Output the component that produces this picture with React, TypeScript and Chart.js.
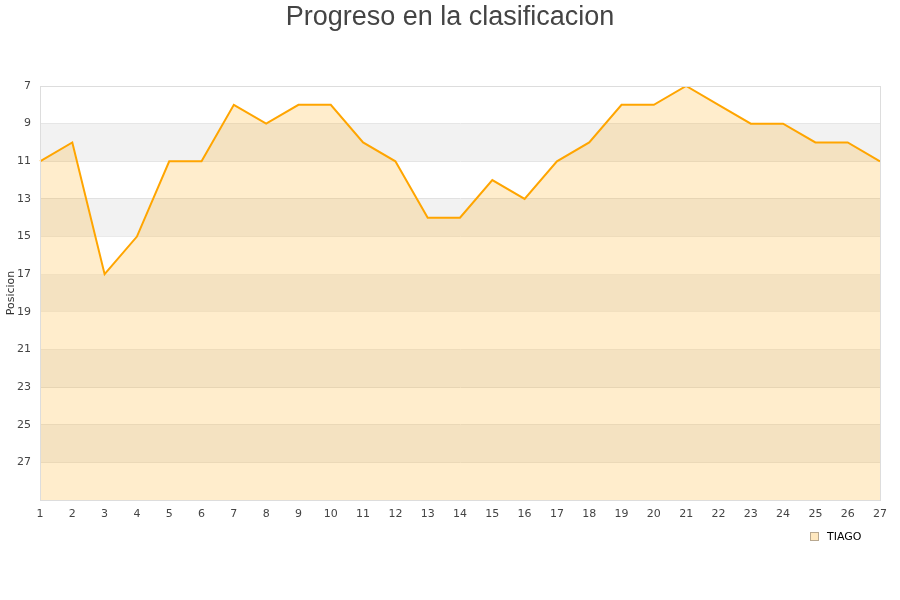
import React, { useEffect, useRef } from "react";
import { Chart, registerables } from "chart.js";

Chart.register(...registerables);

const jornadas = ["1","2","3","4","5","6","7","8","9","10","11","12","13","14","15","16","17","18","19","20","21","22","23","24","25","26","27"];
const posiciones = [11,10,17,15,11,11,8,9,8,8,10,11,14,14,12,13,11,10,8,8,7,8,9,9,10,10,11];
const bandStarts = [9,13,17,21,25];
const yMin = 7;
const yMax = 29;
const seriesName = "TIAGO";
const chartTitle = "Progreso en la clasificacion";
const yTitle = "Posicion";

const decorPlugin = {
  id: "decor",
  beforeDatasetsDraw(chart: any) {
    const { ctx, chartArea, scales } = chart;
    const y = scales.y;
    ctx.save();
    ctx.fillStyle = "#f2f2f2";
    for (const b of bandStarts) {
      const p1 = y.getPixelForValue(b);
      const p2 = y.getPixelForValue(b + 2);
      ctx.fillRect(chartArea.left, p1, chartArea.right - chartArea.left, p2 - p1);
    }
    ctx.restore();
  },
  afterDatasetsDraw(chart: any) {
    const { ctx, chartArea } = chart;
    ctx.save();
    ctx.strokeStyle = "#dddddd";
    ctx.lineWidth = 1;
    ctx.strokeRect(Math.round(chartArea.left) + 0.5, Math.round(chartArea.top) + 0.5, Math.round(chartArea.right - chartArea.left), Math.round(chartArea.bottom - chartArea.top));
    ctx.restore();
  },
  afterDraw(chart: any) {
    const { ctx, chartArea, width } = chart;
    // title
    ctx.save();
    ctx.font = "27px 'Liberation Sans', Arial, sans-serif";
    ctx.fillStyle = "#444444";
    ctx.textAlign = "center";
    ctx.textBaseline = "alphabetic";
    ctx.fillText(chartTitle, width / 2, 25);
    ctx.restore();
    // y axis title
    ctx.save();
    ctx.translate(11, (chartArea.top + chartArea.bottom) / 2);
    ctx.rotate(-Math.PI / 2);
    ctx.font = "11px 'DejaVu Sans', sans-serif";
    ctx.fillStyle = "#333333";
    ctx.textAlign = "center";
    ctx.textBaseline = "middle";
    ctx.fillText(yTitle, 0, 0);
    ctx.restore();
    // legend
    const ly = chartArea.bottom + 37;
    const bx = Math.round(chartArea.right) - 70;
    ctx.save();
    ctx.fillStyle = "rgba(255,165,0,0.25)";
    ctx.fillRect(bx + 0.5, ly - 4.5, 8, 8);
    ctx.strokeStyle = "#b8a890";
    ctx.lineWidth = 1;
    ctx.strokeRect(bx + 0.5, ly - 4.5, 8, 8);
    ctx.font = "11px 'DejaVu Sans', sans-serif";
    ctx.fillStyle = "#000000";
    ctx.textAlign = "left";
    ctx.textBaseline = "middle";
    ctx.fillText(seriesName, bx + 17, ly);
    ctx.restore();
  },
};

export default function App() {
  const ref = useRef<HTMLCanvasElement>(null);
  useEffect(() => {
    if (!ref.current) return;
    const chart = new Chart(ref.current, {
      type: "line",
      data: {
        labels: jornadas,
        datasets: [
          {
            label: seriesName,
            data: posiciones,
            borderColor: "#ffa500",
            backgroundColor: "rgba(255,165,0,0.2)",
            borderWidth: 2,
            pointRadius: 0,
            tension: 0,
            fill: { value: yMax },
          },
        ],
      },
      options: {
        animation: false,
        responsive: false,
        maintainAspectRatio: false,
        layout: { padding: { left: 0, right: 20, top: 86, bottom: 76 } },
        plugins: {
          title: { display: false },
          legend: { display: false },
          tooltip: { enabled: false },
        },
        scales: {
          x: {
            offset: false,
            grid: { display: false, drawTicks: false },
            border: { display: true, color: "#dddddd" },
            ticks: {
              color: "#444444",
              font: { family: "'DejaVu Sans', sans-serif", size: 11 },
              padding: 8,
              maxRotation: 0,
              autoSkip: false,
            },
            afterFit: (s: any) => { s.height = 24; },
          },
          y: {
            reverse: true,
            min: yMin,
            max: yMax,
            grid: { color: "#e0e0e0", drawTicks: false },
            border: { display: true, color: "#dddddd" },
            ticks: {
              stepSize: 2,
              color: "#444444",
              font: { family: "'DejaVu Sans', sans-serif", size: 11 },
              padding: 9,
              callback: (v: any) => (v === yMax ? "" : String(v)),
            },
            afterFit: (s: any) => { s.width = 40; },
          },
        },
      },
      plugins: [decorPlugin],
    });
    return () => chart.destroy();
  }, []);
  return (
    <div style={{ position: "fixed", left: 0, top: 0, width: 900, height: 600, background: "#ffffff" }}>
      <canvas ref={ref} width={900} height={600} />
    </div>
  );
}
